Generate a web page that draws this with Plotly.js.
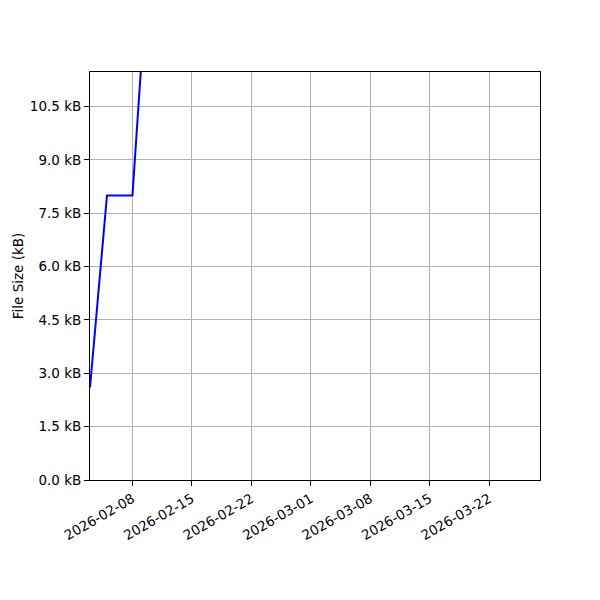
<!DOCTYPE html>
<html>
<head>
<meta charset="utf-8">
<script src="https://cdn.plot.ly/plotly-3.0.1.min.js"></script>
<style>
  html, body { margin: 0; padding: 0; background: #fff; }
  #chart { width: 600px; height: 600px; }
</style>
</head>
<body>
<div id="chart"></div>
<script>
// file size history
var dates = ["2026-02-03", "2026-02-04", "2026-02-05", "2026-02-06", "2026-02-07", "2026-02-08", "2026-02-09"];
var sizesKb = [2.6, 5.3, 8.0, 8.0, 8.0, 8.0, 11.55];

var xTickDates = ["2026-02-08", "2026-02-15", "2026-02-22", "2026-03-01", "2026-03-08", "2026-03-15", "2026-03-22"];
var yTickValues = [0, 1.5, 3.0, 4.5, 6.0, 7.5, 9.0, 10.5];
var yTickLabels = yTickValues.map(v => v.toFixed(1) + " kB");

var sizeTrace =
{
    x: dates,
    y: sizesKb,
    mode: "lines",
    type: "scatter",
    line: { color: "#0000ff", width: 2 },
    hoverinfo: "x+y"
};

var axisFont = { family: "DejaVu Sans", size: 13.5, color: "#000" };

var layout =
{
    width: 600,
    height: 600,
    margin: { l: 90, r: 60, t: 72, b: 120 },
    paper_bgcolor: "#fff",
    plot_bgcolor: "#fff",
    showlegend: false,
    font: axisFont,
    xaxis:
    {
        type: "date",
        range: ["2026-02-03", "2026-03-28"],
        tickmode: "array",
        tickvals: xTickDates,
        ticktext: xTickDates,
        tickangle: -30,
        ticks: "outside",
        ticklen: 5,
        tickcolor: "#000",
        tickfont: axisFont,
        showgrid: true,
        gridcolor: "#b0b0b0",
        gridwidth: 1,
        showline: true,
        linecolor: "#000",
        linewidth: 1,
        mirror: true,
        zeroline: false
    },
    yaxis:
    {
        range: [0, 11.47],
        tickmode: "array",
        tickvals: yTickValues,
        ticktext: yTickLabels,
        ticks: "outside",
        ticklen: 5,
        tickcolor: "#000",
        tickfont: axisFont,
        showgrid: true,
        gridcolor: "#b0b0b0",
        gridwidth: 1,
        showline: true,
        linecolor: "#000",
        linewidth: 1,
        mirror: true,
        zeroline: false,
        title: { text: "File Size (kB)", font: axisFont, standoff: 3 }
    }
};

Plotly.newPlot("chart", [sizeTrace], layout, { displayModeBar: false, staticPlot: true });
</script>
</body>
</html>
